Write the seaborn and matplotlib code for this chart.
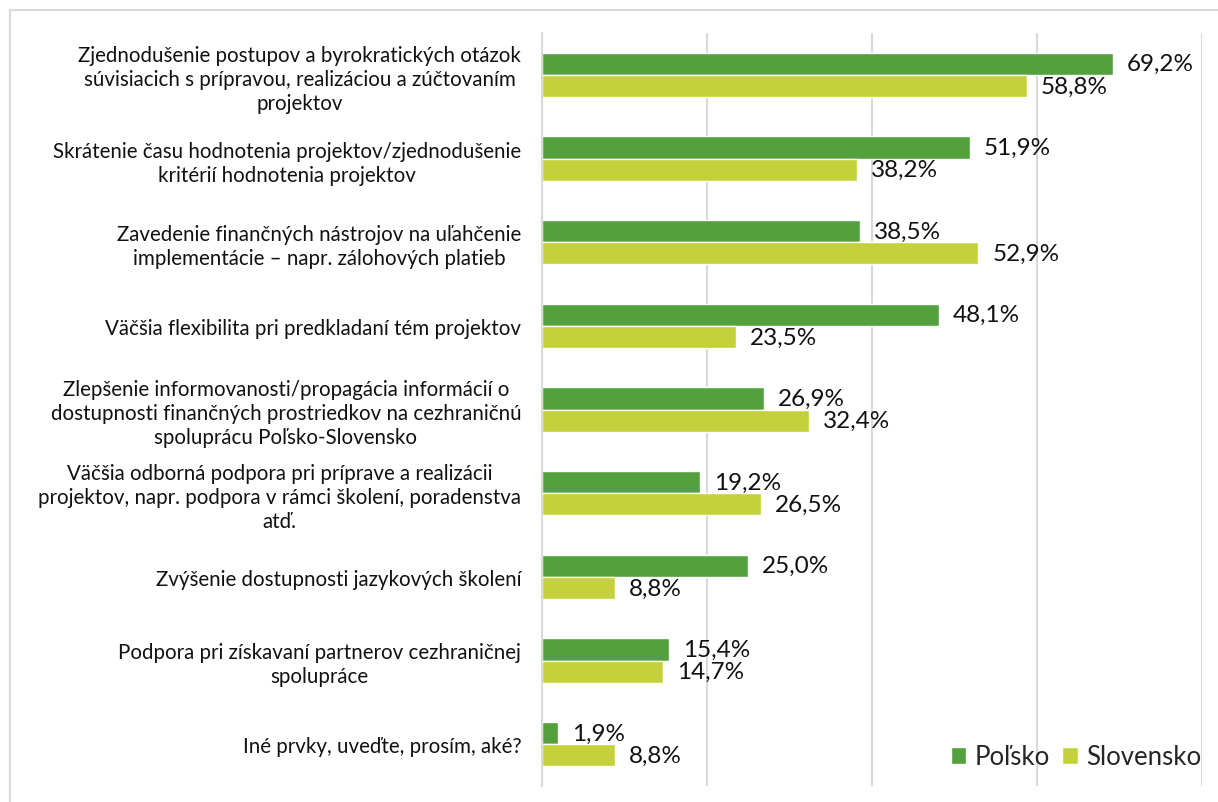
import matplotlib
matplotlib.use("Agg")
import matplotlib.pyplot as plt
import seaborn as sns
import pandas as pd
from matplotlib.patches import Rectangle, Patch

categories = [
    "Zjednodušenie postupov a byrokratických otázok\nsúvisiacich s prípravou, realizáciou a zúčtovaním\nprojektov",
    "Skrátenie času hodnotenia projektov/zjednodušenie\nkritérií hodnotenia projektov",
    "Zavedenie finančných nástrojov na uľahčenie\nimplementácie – napr. zálohových platieb",
    "Väčšia flexibilita pri predkladaní tém projektov",
    "Zlepšenie informovanosti/propagácia informácií o\ndostupnosti finančných prostriedkov na cezhraničnú\nspoluprácu Poľsko-Slovensko",
    "Väčšia odborná podpora pri príprave a realizácii\nprojektov, napr. podpora v rámci školení, poradenstva\natď.",
    "Zvýšenie dostupnosti jazykových školení",
    "Podpora pri získavaní partnerov cezhraničnej\nspolupráce",
    "Iné prvky, uveďte, prosím, aké?",
]
series_names = ["Poľsko", "Slovensko"]
polsko = [69.2, 51.9, 38.5, 48.1, 26.9, 19.2, 25.0, 15.4, 1.9]
slovensko = [58.8, 38.2, 52.9, 23.5, 32.4, 26.5, 8.8, 14.7, 8.8]
colors = ["#54A03C", "#C4D13B"]

df = pd.DataFrame({
    "cat": categories * 2,
    "val": polsko + slovensko,
    "series": [series_names[0]] * len(categories) + [series_names[1]] * len(categories),
})

sns.set_style("white")
plt.rcParams["font.family"] = ["Lato", "DejaVu Sans"]

fig = plt.figure(figsize=(12.18, 8.03), dpi=100)
ax = fig.add_axes([542 / 1218, 1 - 787 / 803, (1202 - 542) / 1218, (787 - 34) / 803])

sns.barplot(data=df, y="cat", x="val", hue="series", orient="h",
            palette=colors, width=0.53, ax=ax, dodge=True, legend=False,
            saturation=1)

ax.set_xlim(0, 80)
ax.set_xticks([0, 20, 40, 60, 80])
ax.set_xticklabels([])
ax.tick_params(axis="both", length=0)
ax.grid(axis="x", color="#D9D9D9", linewidth=1.5)
ax.set_axisbelow(True)
for s in ["top", "right", "bottom"]:
    ax.spines[s].set_visible(False)
ax.spines["left"].set_color("#D9D9D9")
ax.spines["left"].set_linewidth(1.5)
ax.set_xlabel("")
ax.set_ylabel("")
ax.set_yticks(range(len(categories)))
ax.set_yticklabels(categories, fontsize=14.8, multialignment="center", color="#111111",
                   linespacing=1.25)
ax.tick_params(axis="y", pad=15)

for cont in ax.containers:
    labels = [f"{v:.1f}%".replace(".", ",") for v in cont.datavalues]
    ax.bar_label(cont, labels=labels, padding=10, fontsize=17.5, color="#111111")

handles = [Patch(facecolor=c, label=n) for c, n in zip(colors, series_names)]
fig.legend(handles=handles, loc="center right", bbox_to_anchor=(1201 / 1218, 1 - 758 / 803),
           ncol=2, frameon=False, fontsize=18.5, handlelength=0.62, handleheight=0.62,
           handletextpad=0.3, columnspacing=0.5, borderaxespad=0, borderpad=0)

fig.patches.append(Rectangle((10 / 1218, -0.01), 1.02, 1 - 11 / 803 + 0.01,
                             transform=fig.transFigure, fill=False,
                             edgecolor="#D9D9D9", linewidth=1.5))

fig.savefig("out.png", dpi=100)
